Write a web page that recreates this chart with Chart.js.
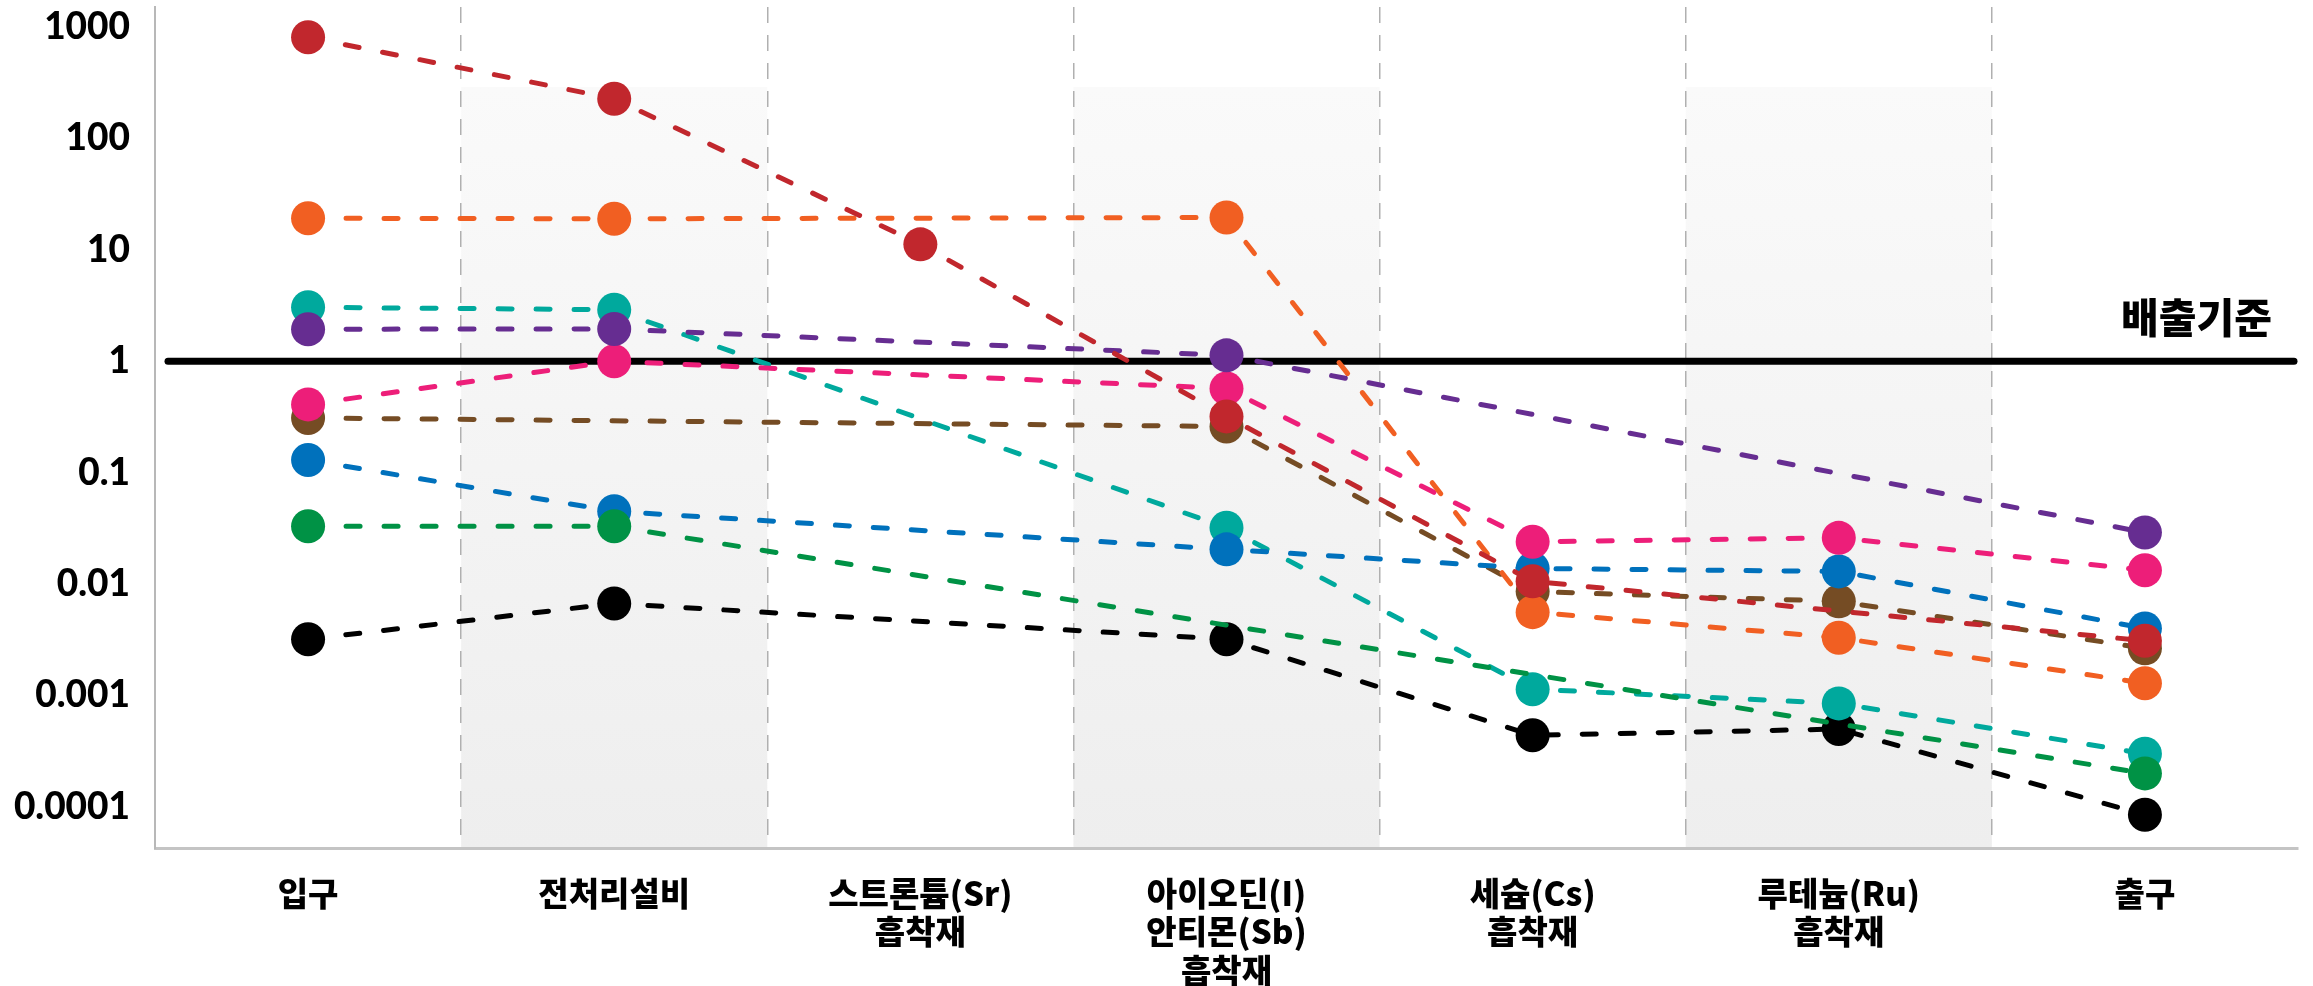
<!DOCTYPE html>
<html>
<head>
<meta charset="utf-8">
<script src="https://cdn.jsdelivr.net/npm/chart.js@4"></script>
<style>
  html, body { margin: 0; padding: 0; background: #fff; }
  #wrap { width: 2313px; height: 986px; }
</style>
</head>
<body>
<div id="wrap"><canvas id="chart" width="2313" height="986"></canvas></div>
<script>
// categories (multi-line labels as arrays)
const categories = ['입구', '전처리설비', ['스트론튬(Sr)', '흡착재'], ['아이오딘(I)', '안티몬(Sb)', '흡착재'], ['세슘(Cs)', '흡착재'], ['루테늄(Ru)', '흡착재'], '출구'];

// series values, null = no point at that stage
const redValues    = [810, 227, 11.2, 0.32, 0.0106, null, 0.0031];
const orangeValues = [19.2, 19, null, 19.5, 0.0056, 0.0033, 0.00129];
const greenValues  = [0.033, 0.033, null, null, null, null, 0.0002];
const purpleValues = [1.94, 1.95, null, 1.13, null, null, 0.029];
const pinkValues   = [0.41, 1.0, null, 0.57, 0.024, 0.026, 0.0133];
const blueValues   = [0.13, 0.045, null, 0.0205, 0.0138, 0.013, 0.004];
const brownValues  = [0.31, null, null, 0.26, 0.0086, 0.007, 0.00265];
const tealValues   = [3.05, 2.9, null, 0.032, 0.00114, 0.00085, 0.0003];
const blackValues  = [0.0032, 0.0067, null, 0.0032, 0.00044, 0.0005, 0.000085];

// y axis ticks
const yTicks = [0.0001, 0.001, 0.01, 0.1, 1, 10, 100, 1000];
const yTickLabels = ['0.0001', '0.001', '0.01', '0.1', '1', '10', '100', '1000'];

// emission limit line
const limitValue = 1;
const limitLabel = '배출기준';

// shaded stages
const shadedCategories = [1, 3, 5];

function series(label, data, color) {
    return {
        label: label,
        data: data,
        borderColor: color,
        backgroundColor: color,
        pointBackgroundColor: color,
        pointBorderWidth: 0,
        pointRadius: 17,
        pointHoverRadius: 17,
        borderWidth: 5,
        borderDash: [14, 24],
        borderCapStyle: 'round',
        spanGaps: true,
        tension: 0,
        fill: false
    }
}

const bandsPlugin = {
    id: 'bands',
    beforeDraw(chart) {
        const {ctx, chartArea, scales} = chart
        const x = scales.x
        const step = x.getPixelForValue(1) - x.getPixelForValue(0)
        const top = chartArea.top + 80
        const grad = ctx.createLinearGradient(0, top, 0, chartArea.bottom)
        grad.addColorStop(0, '#fafafa')
        grad.addColorStop(1, '#eeeeee')
        ctx.save()
        ctx.fillStyle = grad
        shadedCategories.forEach(i => {
            const c = x.getPixelForValue(i)
            ctx.fillRect(c - step / 2, top, step, chartArea.bottom - top)
        })
        ctx.restore()
    }
}

const limitPlugin = {
    id: 'limit',
    beforeDatasetsDraw(chart) {
        const {ctx, chartArea, scales} = chart
        const y = scales.y.getPixelForValue(limitValue)
        ctx.save()
        ctx.strokeStyle = '#000'
        ctx.lineWidth = 7
        ctx.lineCap = 'round'
        ctx.beginPath()
        ctx.moveTo(chartArea.left + 13, y)
        ctx.lineTo(chartArea.right - 4, y)
        ctx.stroke()
        ctx.fillStyle = '#000'
        ctx.font = '900 41px "Noto Sans CJK KR"'
        ctx.textAlign = 'right'
        ctx.textBaseline = 'alphabetic'
        ctx.fillText(limitLabel, chartArea.right - 26, y - 28)
        ctx.restore()
    }
}

new Chart(document.getElementById('chart').getContext('2d'), {
    type: 'line',
    data: {
        labels: categories,
        datasets: [
            series('red', redValues, '#C1272D'),
            series('orange', orangeValues, '#F15F22'),
            series('green', greenValues, '#009245'),
            series('purple', purpleValues, '#662D91'),
            series('pink', pinkValues, '#ED1E79'),
            series('blue', blueValues, '#0071BC'),
            series('brown', brownValues, '#754C24'),
            series('teal', tealValues, '#00A99D'),
            series('black', blackValues, '#000000')
        ]
    },
    options: {
        responsive: false,
        animation: false,
        events: [],
        devicePixelRatio: 1,
        layout: { autoPadding: false, padding: { top: 7, right: 15, left: 0, bottom: 0 } },
        plugins: {
            legend: { display: false },
            tooltip: { enabled: false }
        },
        scales: {
            x: {
                type: 'category',
                offset: true,
                grid: {
                    offset: true,
                    drawTicks: false,
                    lineWidth: 1.5,
                    color: ctx => (ctx.type === 'tick' && ctx.index > 0) ? '#b0b0b0' : 'rgba(0,0,0,0)'
                },
                border: { display: true, color: '#c4c4c4', width: 3, dash: [16, 12] },
                ticks: {
                    color: '#000',
                    padding: 26,
                    maxRotation: 0,
                    autoSkip: false,
                    font: { family: '"Noto Sans CJK KR"', size: 33, weight: '900', lineHeight: 1.17 }
                },
                afterFit: scale => {
                    scale.height = 138
                    scale.paddingLeft = 0
                    scale.paddingRight = 0
                }
            },
            y: {
                type: 'logarithmic',
                min: 0.0000428,
                max: 1512,
                grid: { display: false, drawTicks: false, color: 'rgba(0,0,0,0)' },
                border: { display: true, color: '#b8b8b8', width: 2 },
                afterBuildTicks: scale => { scale.ticks = yTicks.map(v => ({ value: v })) },
                ticks: {
                    color: '#000',
                    padding: 25,
                    font: { family: 'Lato', size: 37, weight: '900' },
                    callback: value => {
                        const i = yTicks.indexOf(value)
                        return i >= 0 ? yTickLabels[i] : ''
                    }
                },
                afterFit: scale => {
                    scale.width = 155
                    scale.paddingTop = 0
                    scale.paddingBottom = 0
                }
            }
        }
    },
    plugins: [bandsPlugin, limitPlugin]
});
</script>
</body>
</html>
